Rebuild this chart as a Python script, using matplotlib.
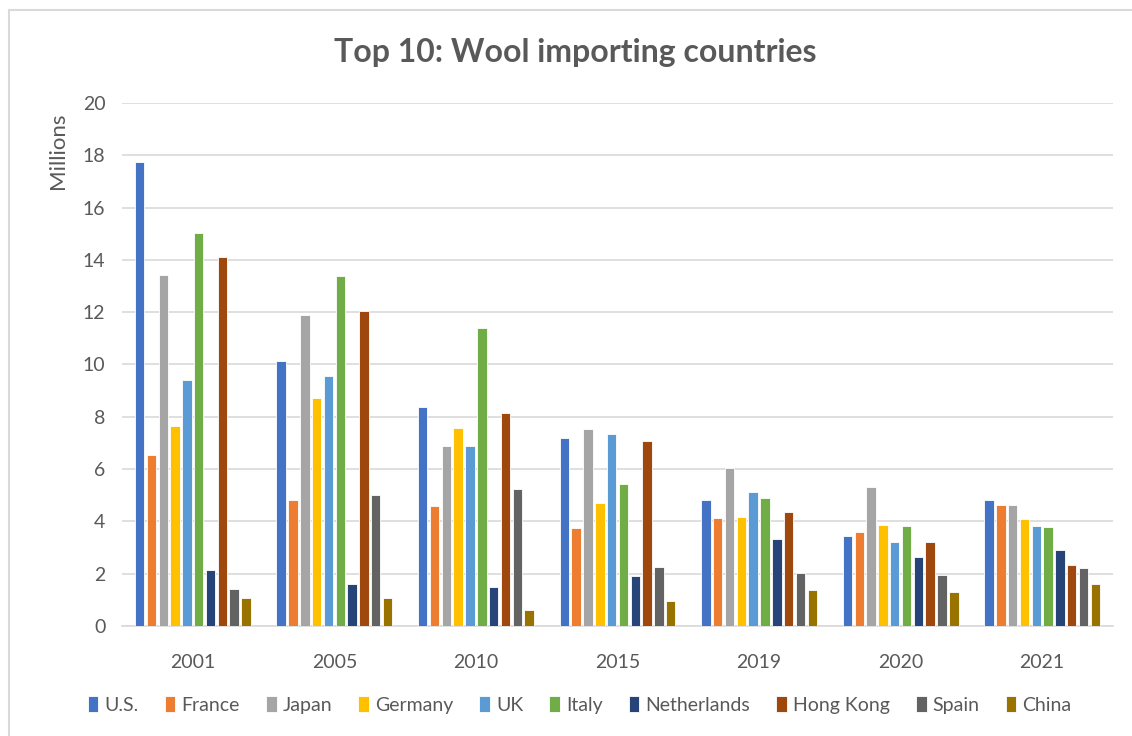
import matplotlib.pyplot as plt
import numpy as np
from matplotlib.patches import Rectangle

# Data (millions)
years = ['2001', '2005', '2010', '2015', '2019', '2020', '2021']
countries = ['U.S.', 'France', 'Japan', 'Germany', 'UK', 'Italy',
             'Netherlands', 'Hong Kong', 'Spain', 'China']

us = [17.73, 10.13, 8.36, 7.17, 4.82, 3.43, 4.82]
france = [6.55, 4.82, 4.59, 3.73, 4.13, 3.61, 4.64]
japan = [13.41, 11.88, 6.87, 7.52, 6.05, 5.31, 4.64]
germany = [7.65, 8.72, 7.56, 4.72, 4.17, 3.85, 4.10]
uk = [9.42, 9.56, 6.87, 7.36, 5.11, 3.20, 3.81]
italy = [15.01, 13.40, 11.38, 5.41, 4.89, 3.82, 3.77]
netherlands = [2.13, 1.61, 1.50, 1.91, 3.31, 2.62, 2.89]
hong_kong = [14.12, 12.04, 8.16, 7.06, 4.36, 3.20, 2.33]
spain = [1.40, 5.01, 5.23, 2.24, 2.01, 1.94, 2.20]
china = [1.06, 1.06, 0.60, 0.97, 1.36, 1.31, 1.59]

series = [us, france, japan, germany, uk, italy, netherlands, hong_kong, spain, china]
colors = ['#4472C4', '#ED7D31', '#A5A5A5', '#FFC000', '#5B9BD5', '#70AD47',
          '#264478', '#9E480E', '#636363', '#997300']

plt.rcParams['font.family'] = ['Lato', 'DejaVu Sans']
text_color = '#595959'
grid_color = '#D9D9D9'

fig = plt.figure(figsize=(11.32, 7.36), dpi=100)
ax = fig.add_axes([0.1078, 0.1495, 0.8754, 0.7106])

x = np.arange(len(years))
slot = 0.0835
bar_w = slot * 0.8
for i, (vals, name, col) in enumerate(zip(series, countries, colors)):
    offset = (i - (len(series) - 1) / 2) * slot
    ax.bar(x + offset, vals, bar_w, color=col, label=name,
           edgecolor='white', linewidth=0.6, zorder=3)

ax.set_xlim(-0.5, len(years) - 0.5)
ax.set_ylim(0, 20)
ax.set_yticks(np.arange(0, 21, 2))
ax.set_xticks(x)
ax.set_xticklabels(years)
ax.tick_params(axis='both', length=0, labelsize=14, colors=text_color)
ax.tick_params(axis='y', pad=12)
ax.tick_params(axis='x', pad=20)
ax.grid(axis='y', color=grid_color, linewidth=1.2, zorder=0)
for side in ['top', 'right', 'left']:
    ax.spines[side].set_visible(False)
ax.spines['bottom'].set_color(grid_color)
ax.spines['bottom'].set_linewidth(1.2)

fig.text(0.508, 0.929, 'Top 10: Wool importing countries', ha='center', va='center',
         fontsize=23, fontweight='bold', color=text_color)
fig.text(0.051, 0.795, 'Millions', rotation=90, ha='center', va='center',
         fontsize=16, color=text_color)

leg = fig.legend(loc='center', bbox_to_anchor=(0.512, 0.042), ncol=10, frameon=False,
                 fontsize=14, handlelength=0.55, handleheight=0.9, handletextpad=0.3,
                 columnspacing=1.35, labelcolor=text_color)

# chart-area border (only top and left edges fall inside the image)
fig.patches.append(Rectangle((9 / 1132, -0.01), 1.05, 1 - 10 / 736 + 0.01,
                             transform=fig.transFigure, fill=False,
                             edgecolor=grid_color, linewidth=1.5))

fig.savefig('out.png', dpi=100, facecolor='white')
